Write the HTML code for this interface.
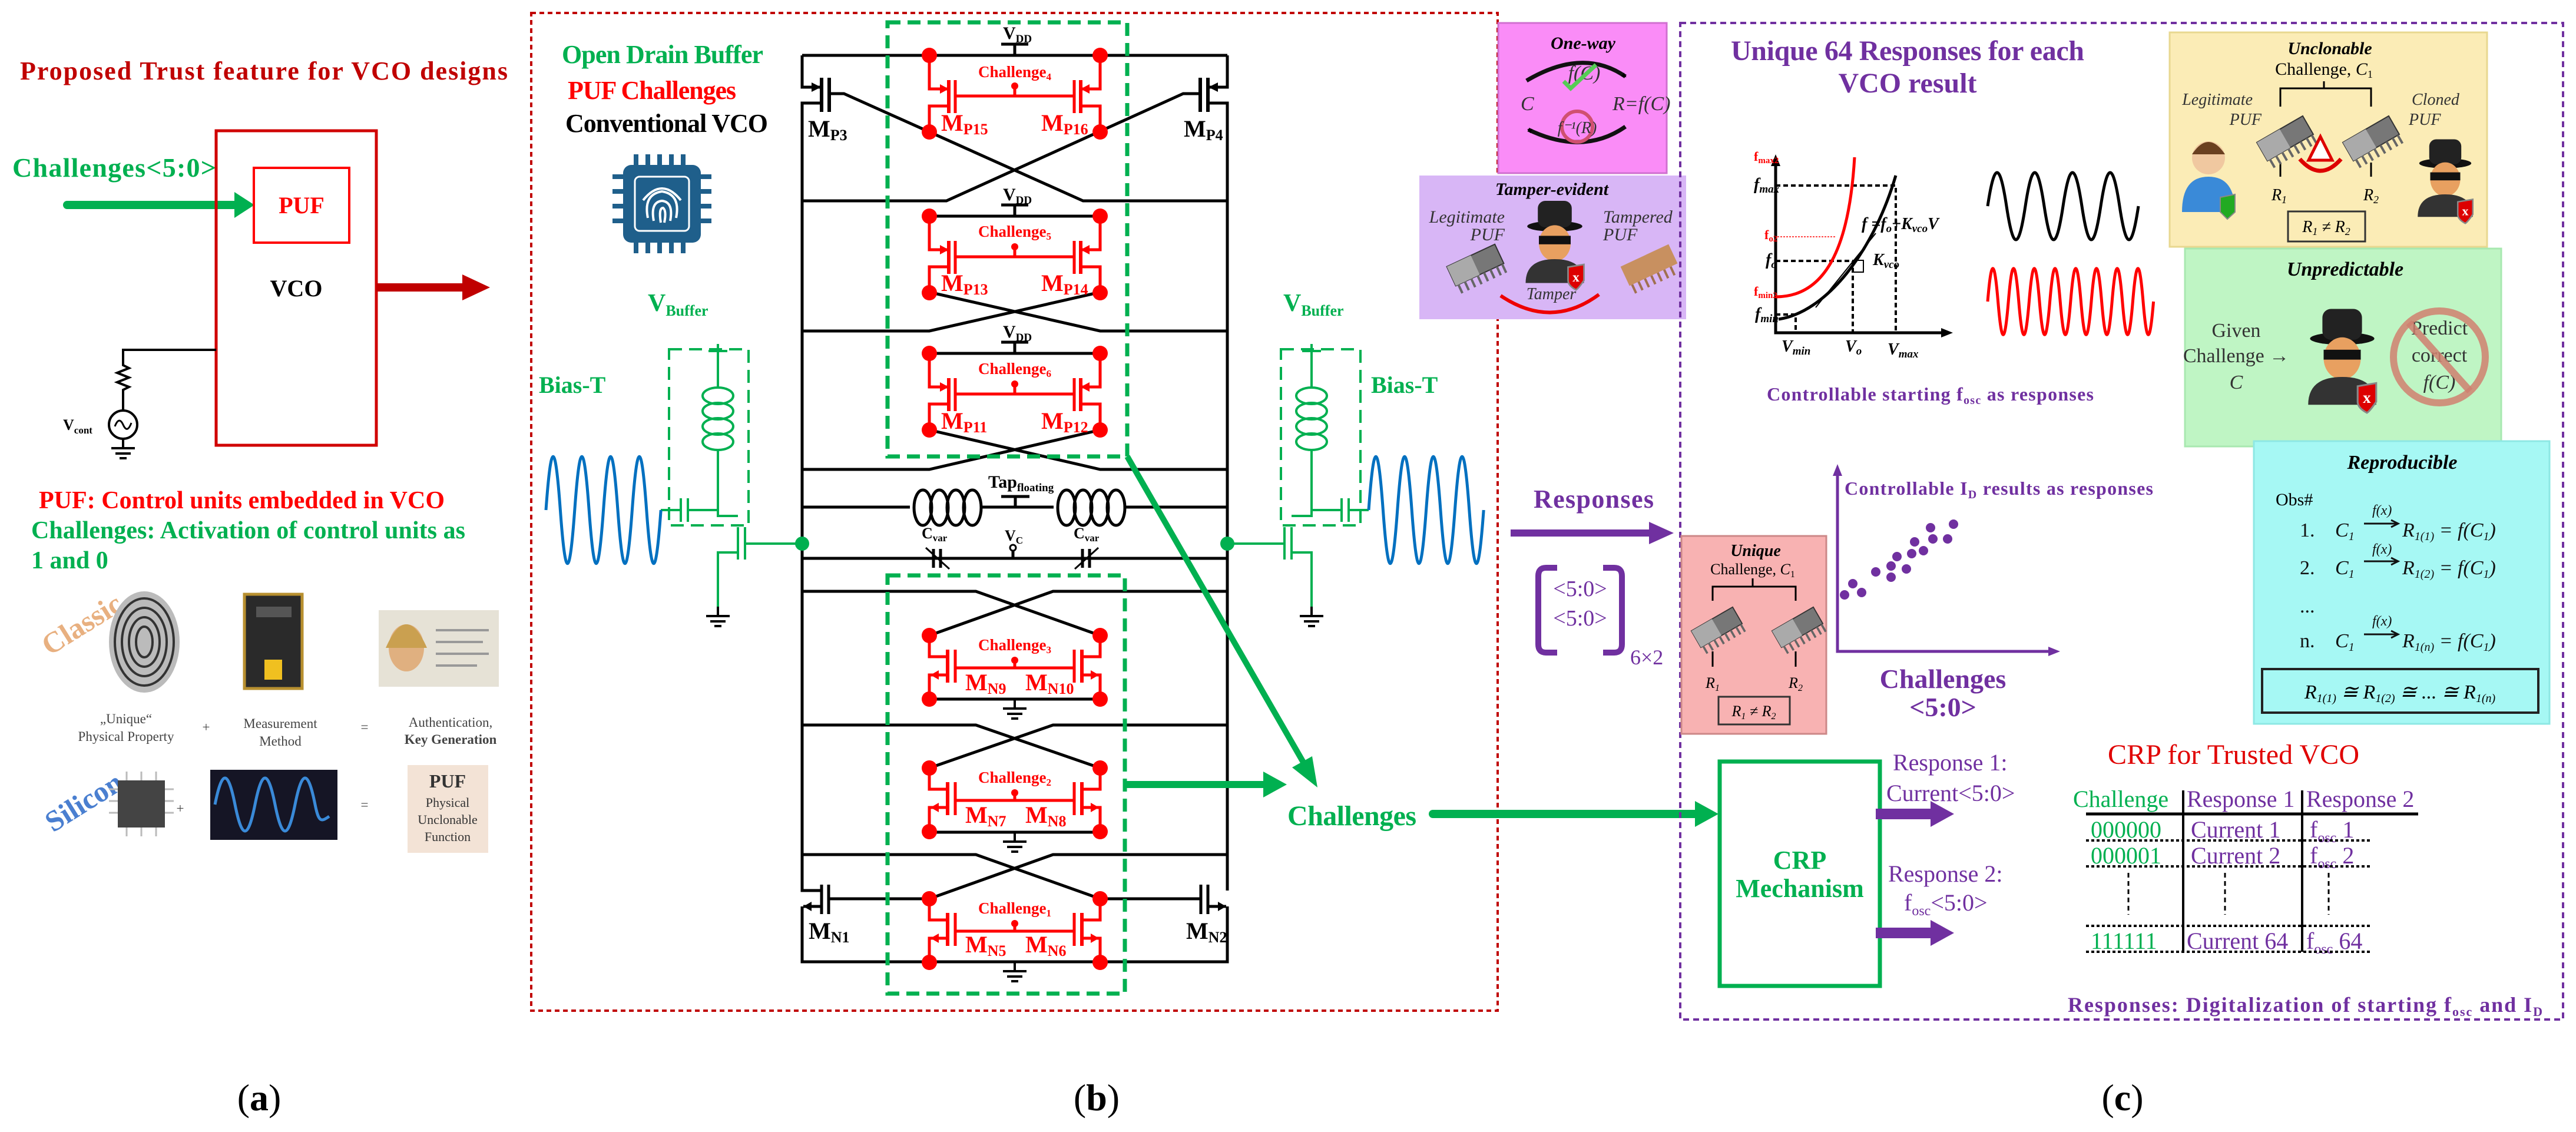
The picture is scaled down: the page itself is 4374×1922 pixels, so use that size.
<!DOCTYPE html>
<html><head><meta charset="utf-8"><style>
html,body{margin:0;padding:0;background:#fff;width:4374px;height:1922px;overflow:hidden}
svg{display:block}
text{font-family:"Liberation Serif",serif}
.b{font-weight:bold}
.i{font-style:italic}
</style></head><body>
<svg width="4374" height="1922" viewBox="0 0 4374 1922" xmlns="http://www.w3.org/2000/svg">
<defs>
<marker id="ah" markerWidth="8" markerHeight="8" refX="6" refY="4" orient="auto" markerUnits="userSpaceOnUse"><path d="M0,0 L8,4 L0,8z" fill="#000"/></marker>
<g id="punit" stroke="#f00" stroke-width="5" fill="none">
 <path d="M0,0 V57 H30 M290,0 V57 H260 M33,86 H0 V130 M257,86 H290 V130"/>
 <path d="M33,42 V98 M257,42 V98" stroke-width="6"/>
 <path d="M44,42 V98 M246,42 V98 M44,69 H246 M145,53 V69" />
 <circle cx="145" cy="52" r="6" fill="#f00" stroke="none"/>
 <path d="M18,49 L33,57 L18,65z M272,49 L257,57 L272,65z" fill="#f00" stroke="none"/>
 <circle cx="0" cy="0" r="13" fill="#f00" stroke="none"/><circle cx="290" cy="0" r="13" fill="#f00" stroke="none"/>
 <circle cx="0" cy="130" r="13" fill="#f00" stroke="none"/><circle cx="290" cy="130" r="13" fill="#f00" stroke="none"/>
</g>
<g id="nunit" stroke="#f00" stroke-width="5" fill="none">
 <path d="M0,0 V36 H31 M290,0 V36 H259 M31,67 H0 V108 M259,67 H290 V108"/>
 <path d="M31,24 V80 M259,24 V80" stroke-width="6"/>
 <path d="M44,24 V80 M246,24 V80 M44,55 H246 M145,43 V55"/>
 <circle cx="145" cy="42" r="6" fill="#f00" stroke="none"/>
 <path d="M2,67 L16,59 L16,75z M288,67 L274,59 L274,75z" fill="#f00" stroke="none"/>
 <circle cx="0" cy="0" r="13" fill="#f00" stroke="none"/><circle cx="290" cy="0" r="13" fill="#f00" stroke="none"/>
 <circle cx="0" cy="108" r="13" fill="#f00" stroke="none"/><circle cx="290" cy="108" r="13" fill="#f00" stroke="none"/>
</g>
<g id="gnd" stroke="#000" stroke-width="4"><path d="M0,0 V16 M-20,16 H20 M-13,25 H13 M-6,33 H6"/></g>
<g id="ind" stroke="#000" stroke-width="5" fill="none">
 <ellipse cx="22" cy="0" rx="15" ry="30"/><ellipse cx="50" cy="0" rx="15" ry="30"/><ellipse cx="78" cy="0" rx="15" ry="30"/><ellipse cx="106" cy="0" rx="15" ry="30"/>
</g>
<g id="chip">
 <rect x="-45" y="-18" width="90" height="36" fill="#777" stroke="#333" stroke-width="2"/>
 <rect x="-45" y="-18" width="45" height="36" fill="#aaa"/>
 <path d="M-40,18 V34 M-28,18 V34 M-16,18 V34 M-4,18 V34 M8,18 V34 M20,18 V34 M32,18 V34 M42,18 V34" stroke="#666" stroke-width="4"/>
</g>
<g id="hacker">
 <ellipse cx="0" cy="-62" rx="52" ry="10" fill="#111"/>
 <rect x="-32" y="-110" width="64" height="50" rx="14" fill="#222"/>
 <ellipse cx="0" cy="-30" rx="30" ry="34" fill="#e8a060"/>
 <rect x="-30" y="-44" width="60" height="16" fill="#111"/>
 <path d="M-55,45 Q-55,0 0,0 Q55,0 55,45 Z" fill="#333"/>
 <path d="M25,15 L55,10 L55,40 Q45,55 40,58 Q25,50 25,40z" fill="#d00" stroke="#888" stroke-width="3"/>
 <text x="40" y="42" font-size="26" fill="#fff" text-anchor="middle" class="b">x</text>
</g>
</defs>

<!-- ================= PANEL A ================= -->
<text x="34" y="135" font-size="44" class="b" fill="#c00000" textLength="828">Proposed Trust feature for VCO designs</text>
<text x="21" y="300" font-size="46" class="b" fill="#00b050" textLength="346">Challenges&lt;5:0&gt;</text>
<line x1="114" y1="348" x2="405" y2="348" stroke="#00b050" stroke-width="14" stroke-linecap="round"/>
<polygon points="398,326 432,348 398,370" fill="#00b050"/>
<rect x="367" y="222" width="272" height="534" fill="none" stroke="#d00000" stroke-width="5"/>
<rect x="431" y="285" width="162" height="127" fill="none" stroke="#f00" stroke-width="4"/>
<text x="512" y="362" font-size="40" class="b" fill="#f00" text-anchor="middle">PUF</text>
<text x="503" y="503" font-size="40" class="b" fill="#000" text-anchor="middle">VCO</text>
<line x1="639" y1="488" x2="790" y2="488" stroke="#c00000" stroke-width="14"/>
<polygon points="785,466 832,488 785,510" fill="#c00000"/>
<path d="M367,594 H209 V620 l10,5 -20,8 20,8 -20,8 20,8 -10,5 V697" fill="none" stroke="#000" stroke-width="4"/>
<circle cx="209" cy="721" r="24" fill="none" stroke="#000" stroke-width="4"/>
<path d="M195,724 q7,-18 14,-3 q7,16 14,-3" fill="none" stroke="#000" stroke-width="3"/>
<use href="#gnd" x="209" y="745"/>
<text x="107" y="730" font-size="26" class="b">V<tspan font-size="17" dy="6">cont</tspan></text>
<text x="66" y="863" font-size="42" class="b" fill="#f00" textLength="689">PUF: Control units embedded in VCO</text>
<text x="53" y="914" font-size="42" class="b" fill="#00b050" textLength="737">Challenges: Activation of control units as</text>
<text x="53" y="965" font-size="42" class="b" fill="#00b050">1 and 0</text>
<!-- images -->
<text x="60" y="1090" font-size="50" class="b" fill="#e8b080" transform="rotate(-32 114 1060)" font-family="Liberation Sans">Classic</text>
<ellipse cx="245" cy="1090" rx="60" ry="86" fill="#bbb"/>
<g fill="none" stroke="#333" stroke-width="4"><ellipse cx="245" cy="1090" rx="50" ry="74"/><ellipse cx="245" cy="1090" rx="38" ry="58"/><ellipse cx="245" cy="1090" rx="26" ry="42"/><ellipse cx="245" cy="1090" rx="14" ry="26"/></g>
<rect x="415" y="1009" width="98" height="160" fill="#2a2a2a" stroke="#b89030" stroke-width="5"/>
<rect x="449" y="1120" width="30" height="34" fill="#f0c020"/><rect x="435" y="1030" width="60" height="18" fill="#555"/>
<rect x="643" y="1036" width="204" height="130" fill="#e6e2d6"/>
<ellipse cx="690" cy="1100" rx="30" ry="40" fill="#e0b080"/><path d="M655,1100 q35,-80 70,0" fill="#caa050"/>
<g stroke="#999" stroke-width="4"><path d="M740,1070 H830 M740,1090 H820 M740,1110 H830 M740,1130 H810"/></g>
<g font-family="Liberation Sans" font-size="23" fill="#444" text-anchor="middle">
<text x="214" y="1228">„Unique“</text><text x="214" y="1258">Physical Property</text>
<text x="350" y="1242">+</text>
<text x="476" y="1236">Measurement</text><text x="476" y="1266">Method</text>
<text x="619" y="1242">=</text>
<text x="765" y="1234">Authentication,</text><text x="765" y="1263" font-weight="bold">Key Generation</text>
<text x="306" y="1380">+</text><text x="619" y="1374">=</text>
</g>
<text x="65" y="1385" font-size="50" class="b" fill="#4a7fd0" transform="rotate(-32 128 1356)" font-family="Liberation Sans">Silicon</text>
<rect x="200" y="1325" width="80" height="80" fill="#444"/>
<g stroke="#bbb" stroke-width="3"><path d="M185,1340 H200 M185,1360 H200 M185,1380 H200 M280,1340 H295 M280,1360 H295 M280,1380 H295 M215,1310 V1325 M240,1310 V1325 M265,1310 V1325 M215,1405 V1420 M240,1405 V1420 M265,1405 V1420"/></g>
<rect x="357" y="1307" width="216" height="119" fill="#151525"/>
<path d="M365,1366 c12,-60 22,-60 34,0 c12,60 22,60 34,0 c12,-60 22,-60 34,0 c12,60 22,60 34,0 c12,-60 22,-60 34,0 c6,30 10,30 24,20" fill="none" stroke="#3a8ad8" stroke-width="5"/>
<rect x="692" y="1299" width="137" height="149" fill="#f3e3d6"/>
<g font-family="Liberation Sans" text-anchor="middle" fill="#333"><text x="760" y="1337" font-size="32" font-weight="bold">PUF</text><text x="760" y="1370" font-size="22">Physical</text><text x="760" y="1399" font-size="22">Unclonable</text><text x="760" y="1428" font-size="22">Function</text></g>

<!-- ================= PANEL B ================= -->
<rect x="902" y="22" width="1641" height="1694" fill="none" stroke="#c00000" stroke-width="4" stroke-dasharray="8,6"/>
<text x="954" y="107" font-size="44" class="b" fill="#00b050" textLength="342">Open Drain Buffer</text>
<text x="964" y="168" font-size="44" class="b" fill="#f00" textLength="286">PUF Challenges</text>
<text x="960" y="224" font-size="44" class="b" fill="#000" textLength="344">Conventional VCO</text>
<!-- chip icon -->
<g stroke="#1f5f8b" stroke-width="8"><path d="M1080,262 V282 M1100,262 V282 M1120,262 V282 M1140,262 V282 M1160,262 V282 M1080,410 V430 M1100,410 V430 M1120,410 V430 M1140,410 V430 M1160,410 V430 M1040,300 H1060 M1040,325 H1060 M1040,350 H1060 M1040,375 H1060 M1188,300 H1208 M1188,325 H1208 M1188,350 H1208 M1188,375 H1208"/></g>
<rect x="1058" y="280" width="132" height="132" rx="14" fill="#1f5f8b"/>
<rect x="1078" y="300" width="92" height="92" rx="8" fill="none" stroke="#fff" stroke-width="3"/>
<g fill="none" stroke="#fff" stroke-width="4"><path d="M1100,370 q-8,-40 24,-45 q32,5 24,45"/><path d="M1110,375 q-6,-32 14,-34 q20,2 14,34"/><path d="M1122,378 q-4,-25 4,-25 q6,5 2,25"/><path d="M1092,340 q32,-40 64,0"/></g>

<!-- bias-T left -->
<text x="1100" y="528" font-size="42" class="b" fill="#00b050">V<tspan font-size="26" dy="8">Buffer</tspan></text>
<text x="915" y="667" font-size="40" class="b" fill="#00b050">Bias-T</text>
<rect x="1136" y="593" width="135" height="299" fill="none" stroke="#00b050" stroke-width="4" stroke-dasharray="22,12"/>
<g fill="none" stroke="#00b050" stroke-width="4">
<path d="M1219,584 V660 M1203,596 H1235"/>
<ellipse cx="1219" cy="672" rx="26" ry="14"/><ellipse cx="1219" cy="698" rx="26" ry="14"/><ellipse cx="1219" cy="724" rx="26" ry="14"/><ellipse cx="1219" cy="750" rx="26" ry="14"/>
<path d="M1219,764 V876 H1253 M1122,866 H1156 M1156,846 V886 M1168,846 V886 M1168,866 H1219"/>
<path d="M1253,895 V950 M1265,895 V950 M1265,923 H1362 M1253,938 H1219 V1030"/>
</g>
<use href="#gnd" x="1219" y="1030" style="filter:none"/>
<path d="M927,866 c8.8,-121 15.6,-121 24.4,0 c8.8,121 15.6,121 24.4,0 c8.8,-121 15.6,-121 24.4,0 c8.8,121 15.6,121 24.4,0 c8.8,-121 15.6,-121 24.4,0 c8.8,121 15.6,121 24.4,0 c8.8,-121 15.6,-121 24.4,0 c8.8,121 15.6,121 24.4,0" fill="none" stroke="#0070c0" stroke-width="5"/>
<!-- bias-T right -->
<text x="2179" y="528" font-size="42" class="b" fill="#00b050">V<tspan font-size="26" dy="8">Buffer</tspan></text>
<text x="2328" y="667" font-size="40" class="b" fill="#00b050">Bias-T</text>
<rect x="2175" y="593" width="135" height="299" fill="none" stroke="#00b050" stroke-width="4" stroke-dasharray="22,12"/>
<g fill="none" stroke="#00b050" stroke-width="4">
<path d="M2227,584 V660 M2211,596 H2243"/>
<ellipse cx="2227" cy="672" rx="26" ry="14"/><ellipse cx="2227" cy="698" rx="26" ry="14"/><ellipse cx="2227" cy="724" rx="26" ry="14"/><ellipse cx="2227" cy="750" rx="26" ry="14"/>
<path d="M2227,764 V876 H2193 M2324,866 H2290 M2290,846 V886 M2278,846 V886 M2278,866 H2227"/>
<path d="M2193,895 V950 M2181,895 V950 M2181,923 H2084 M2193,938 H2227 V1030"/>
</g>
<use href="#gnd" x="2227" y="1030"/>
<path d="M2324,866 c8.8,-121 15.6,-121 24.4,0 c8.8,121 15.6,121 24.4,0 c8.8,-121 15.6,-121 24.4,0 c8.8,121 15.6,121 24.4,0 c8.8,-121 15.6,-121 24.4,0 c8.8,121 15.6,121 24.4,0 c8.8,-121 15.6,-121 24.4,0 c8.8,121 15.6,121 24.4,0" fill="none" stroke="#0070c0" stroke-width="5"/>

<!-- core black wiring -->
<g fill="none" stroke="#000" stroke-width="5">
<path d="M1362,94 H2084 M1362,94 V148 H1392 M1395,175 H1362 V1512 H1395 M1362,1539 V1633 H2084 V1539 M2084,1512 V175 H2051 M2054,148 H2084 V94"/>
<path d="M1395,132 V190 M1408,132 V190 M2051,132 V190 M2038,132 V190" stroke-width="6"/>
<path d="M1408,159 H1433 L1839,341 H2084 M2038,159 H2009 L1607,341 H1362"/>
<path d="M1578,367 H1868 M1578,600 H1868"/>
<path d="M1578,496 L1868,562 H2084 M1868,496 L1578,562 H1362 M1578,730 L1868,797 H2084 M1868,730 L1578,797 H1362"/>
<path d="M1362,861 H1545 M1665,861 H1789 M1909,861 H2084 M1362,948 H2084"/>
<path d="M1700,843 H1748 M1724,843 V861"/>
<path d="M1362,1004 H1657 L1868,1079 M2084,1004 H1788 L1578,1079 M1362,1231 H1657 L1868,1304 M2084,1231 H1788 L1578,1304 M1362,1451 H1657 L1868,1526 M2084,1451 H1788 L1578,1526"/>
<path d="M1578,1187 H1868 M1578,1413 H1868"/>
<path d="M1578,1526 H1407 M1868,1526 H2039 M1395,1502 V1552 M1407,1502 V1552 M2051,1502 V1552 M2039,1502 V1552" />
<path d="M1395,1539 H1364 M2051,1539 H2082"/>
<path d="M1700,75 H1746 M1723,75 V94 M1700,348 H1746 M1723,348 V367 M1700,581 H1746 M1723,581 V600"/>
</g>
<path d="M1378,140 L1394,148 L1378,156z M2068,140 L2052,148 L2068,156z M1364,1539 L1378,1531 L1378,1547z M2082,1539 L2068,1531 L2068,1547z" fill="#000"/>
<use href="#ind" x="1545" y="862"/><use href="#ind" x="1789" y="862"/>
<!-- varactors -->
<g stroke="#000" stroke-width="5" fill="none"><path d="M1585,932 V964 M1597,932 V964 M1838,932 V964 M1850,932 V964"/><path d="M1572,930 L1612,966 M1865,930 L1825,966" stroke-width="3"/><path d="M1720,948 V928"/></g>
<circle cx="1720" cy="930" r="5" fill="#fff" stroke="#000" stroke-width="3"/>
<circle cx="1362" cy="923" r="12" fill="#00b050"/><circle cx="2084" cy="923" r="12" fill="#00b050"/>
<g font-size="26" class="b">
<text x="1565" y="914">C<tspan font-size="17" dy="5">var</tspan></text>
<text x="1823" y="914">C<tspan font-size="17" dy="5">var</tspan></text>
<text x="1706" y="918">V<tspan font-size="17" dy="5">C</tspan></text>
<text x="1678" y="828" font-size="30">Tap<tspan font-size="19" dy="6">floating</tspan></text>
</g>
<g font-size="30" class="b">
<text x="1703" y="66">V<tspan font-size="19" dy="6">DD</tspan></text>
<text x="1703" y="340">V<tspan font-size="19" dy="6">DD</tspan></text>
<text x="1703" y="573">V<tspan font-size="19" dy="6">DD</tspan></text>
</g>
<use href="#punit" x="1578" y="94"/><use href="#punit" x="1578" y="367"/><use href="#punit" x="1578" y="600"/>
<use href="#nunit" x="1578" y="1079"/><use href="#nunit" x="1578" y="1304"/><use href="#nunit" x="1578" y="1526"/>
<use href="#gnd" x="1723" y="1187"/><use href="#gnd" x="1723" y="1413"/><use href="#gnd" x="1723" y="1633"/>
<g fill="#f00" class="b" text-anchor="middle" font-size="27">
<text x="1723" y="131">Challenge<tspan font-size="17" dy="5">4</tspan></text>
<text x="1723" y="402">Challenge<tspan font-size="17" dy="5">5</tspan></text>
<text x="1723" y="635">Challenge<tspan font-size="17" dy="5">6</tspan></text>
<text x="1723" y="1104">Challenge<tspan font-size="17" dy="5">3</tspan></text>
<text x="1723" y="1329">Challenge<tspan font-size="17" dy="5">2</tspan></text>
<text x="1723" y="1551">Challenge<tspan font-size="17" dy="5">1</tspan></text>
</g>
<g fill="#f00" class="b" font-size="40">
<text x="1598" y="222">M<tspan font-size="26" dy="6">P15</tspan></text><text x="1768" y="222">M<tspan font-size="26" dy="6">P16</tspan></text>
<text x="1598" y="494">M<tspan font-size="26" dy="6">P13</tspan></text><text x="1768" y="494">M<tspan font-size="26" dy="6">P14</tspan></text>
<text x="1598" y="728">M<tspan font-size="26" dy="6">P11</tspan></text><text x="1768" y="728">M<tspan font-size="26" dy="6">P12</tspan></text>
<text x="1639" y="1172">M<tspan font-size="26" dy="6">N9</tspan></text><text x="1741" y="1172">M<tspan font-size="26" dy="6">N10</tspan></text>
<text x="1639" y="1397">M<tspan font-size="26" dy="6">N7</tspan></text><text x="1741" y="1397">M<tspan font-size="26" dy="6">N8</tspan></text>
<text x="1639" y="1617">M<tspan font-size="26" dy="6">N5</tspan></text><text x="1741" y="1617">M<tspan font-size="26" dy="6">N6</tspan></text>
</g>
<g fill="#000" class="b" font-size="40">
<text x="1372" y="232">M<tspan font-size="26" dy="6">P3</tspan></text><text x="2010" y="232">M<tspan font-size="26" dy="6">P4</tspan></text>
<text x="1373" y="1594">M<tspan font-size="26" dy="6">N1</tspan></text><text x="2014" y="1594">M<tspan font-size="26" dy="6">N2</tspan></text>
</g>
<!-- green dashed boxes & arrows -->
<rect x="1507" y="38" width="407" height="737" fill="none" stroke="#00b050" stroke-width="7" stroke-dasharray="22,12"/>
<rect x="1507" y="977" width="403" height="710" fill="none" stroke="#00b050" stroke-width="7" stroke-dasharray="22,12"/>
<line x1="1914" y1="775" x2="2214" y2="1296" stroke="#00b050" stroke-width="10"/>
<polygon points="2237,1337 2194,1303 2228,1284" fill="#00b050"/>
<line x1="1910" y1="1332" x2="2150" y2="1332" stroke="#00b050" stroke-width="12"/>
<polygon points="2145,1310 2185,1332 2145,1354" fill="#00b050"/>
<text x="2186" y="1401" font-size="48" class="b" fill="#00b050" textLength="219">Challenges</text>
<line x1="2433" y1="1382" x2="2885" y2="1382" stroke="#00b050" stroke-width="14" stroke-linecap="round"/>
<polygon points="2878,1360 2918,1382 2878,1404" fill="#00b050"/>

<!-- responses -->
<text x="2604" y="862" font-size="44" class="b" fill="#7030a0" textLength="204">Responses</text>
<line x1="2565" y1="905" x2="2805" y2="905" stroke="#7030a0" stroke-width="12"/>
<polygon points="2800,886 2842,905 2800,924" fill="#7030a0"/>
<path d="M2644,964 H2625 Q2612,964 2612,978 V1094 Q2612,1108 2625,1108 H2644 M2722,964 H2741 Q2754,964 2754,978 V1094 Q2754,1108 2741,1108 H2722" fill="none" stroke="#7030a0" stroke-width="10"/>
<text x="2683" y="1012" font-size="38" fill="#7030a0" text-anchor="middle">&lt;5:0&gt;</text>
<text x="2683" y="1062" font-size="38" fill="#7030a0" text-anchor="middle">&lt;5:0&gt;</text>
<text x="2768" y="1128" font-size="36" fill="#7030a0">6×2</text>

<!-- one-way / tamper -->
<rect x="2544" y="39" width="286" height="255" fill="#fa8cf7" stroke="#d070d0" stroke-width="3"/>
<text x="2688" y="83" font-size="30" class="b i" text-anchor="middle">One-way</text>
<path d="M2592,137 Q2688,80 2760,130" fill="none" stroke="#111" stroke-width="7" marker-end="url(#ah)"/>
<path d="M2760,215 Q2688,265 2595,220" fill="none" stroke="#111" stroke-width="7" marker-end="url(#ah)"/>
<text x="2690" y="135" font-size="34" class="i" text-anchor="middle" fill="#333">f(C)</text>
<path d="M2655,138 L2667,150 L2710,110" fill="none" stroke="#5c5" stroke-width="7"/>
<text x="2582" y="187" font-size="34" class="i" fill="#333">C</text>
<text x="2738" y="187" font-size="34" class="i" fill="#333">R=f(C)</text>
<circle cx="2678" cy="215" r="26" fill="none" stroke="#d05070" stroke-width="6"/>
<text x="2678" y="226" font-size="28" class="i" text-anchor="middle" fill="#333">f⁻¹(R)</text>
<rect x="2410" y="298" width="453" height="244" fill="#d8b6f6"/>
<text x="2635" y="331" font-size="30" class="b i" text-anchor="middle">Tamper-evident</text>
<text x="2555" y="378" font-size="30" class="i" text-anchor="end" fill="#333">Legitimate</text>
<text x="2555" y="408" font-size="30" class="i" text-anchor="end" fill="#333">PUF</text>
<text x="2722" y="378" font-size="30" class="i" fill="#333">Tampered</text>
<text x="2722" y="408" font-size="30" class="i" fill="#333">PUF</text>
<use href="#hacker" transform="translate(2640,440) scale(0.9)"/>
<use href="#chip" transform="translate(2505,450) rotate(-25)"/>
<g transform="translate(2800,450) rotate(-25)"><rect x="-45" y="-18" width="90" height="36" fill="#c89060"/><path d="M-40,18 V34 M-28,18 V34 M-16,18 V34 M-4,18 V34 M8,18 V34 M20,18 V34 M32,18 V34" stroke="#a07050" stroke-width="4"/></g>
<text x="2634" y="508" font-size="28" class="i" text-anchor="middle" fill="#333">Tamper</text>
<path d="M2548,502 Q2634,560 2715,500" fill="none" stroke="#e00" stroke-width="6"/>

<!-- ================= PANEL C ================= -->
<rect x="2853" y="39" width="1499" height="1692" fill="none" stroke="#7030a0" stroke-width="4" stroke-dasharray="10,7"/>
<text x="3239" y="102" font-size="48" class="b" fill="#7030a0" text-anchor="middle" textLength="600">Unique 64 Responses for each</text>
<text x="3239" y="157" font-size="48" class="b" fill="#7030a0" text-anchor="middle">VCO result</text>
<!-- graph -->
<g fill="none" stroke="#000" stroke-width="5"><path d="M3015,272 V565 H3305"/></g>
<path d="M3007,282 L3015,262 L3023,282z M3296,557 L3316,565 L3296,573z" fill="#000"/>
<g fill="none" stroke="#000" stroke-width="4" stroke-dasharray="8,5"><path d="M3015,315 H3219 V565 M3015,443 H3146 V565 M3015,534 H3049 V565"/></g>
<path d="M3018,402 H3118" stroke="#f44" stroke-width="2" stroke-dasharray="3,2"/>
<path d="M3015,504 C3100,504 3140,420 3149,267" fill="none" stroke="#f00" stroke-width="5"/>
<path d="M3020,542 C3100,530 3180,430 3219,298" fill="none" stroke="#000" stroke-width="5"/>
<path d="M3083,522 L3185,396" stroke="#000" stroke-width="2"/>
<rect x="3146" y="442" width="18" height="20" fill="none" stroke="#000" stroke-width="2"/>
<g class="b" font-size="28">
<text x="2978" y="273" fill="#f00" font-size="22">f<tspan font-size="15" dy="4">max2</tspan></text>
<text x="2978" y="322" class="i">f<tspan font-size="19" dy="5">max</tspan></text>
<text x="2996" y="406" fill="#f00" font-size="22">f<tspan font-size="15" dy="4">o2</tspan></text>
<text x="2998" y="450" class="i">f<tspan font-size="19" dy="5">o</tspan></text>
<text x="2978" y="502" fill="#f00" font-size="22">f<tspan font-size="15" dy="4">min2</tspan></text>
<text x="2980" y="542" class="i">f<tspan font-size="19" dy="5">min</tspan></text>
<text x="3025" y="597" class="i">V<tspan font-size="19" dy="5">min</tspan></text>
<text x="3133" y="597" class="i">V<tspan font-size="19" dy="5">o</tspan></text>
<text x="3205" y="602" class="i">V<tspan font-size="19" dy="5">max</tspan></text>
<text x="3161" y="389" class="i">f =f<tspan font-size="19" dy="5">o</tspan><tspan dy="-5">+K</tspan><tspan font-size="19" dy="5">vco</tspan><tspan dy="-5">V</tspan></text>
<text x="3180" y="450" class="i">K<tspan font-size="19" dy="5">vco</tspan></text>
</g>
<path d="M3375,350 c11.5,-76 20.5,-76 32,0 c11.5,76 20.5,76 32,0 c11.5,-76 20.5,-76 32,0 c11.5,76 20.5,76 32,0 c11.5,-76 20.5,-76 32,0 c11.5,76 20.5,76 32,0 c11.5,-76 20.5,-76 32,0 c11.5,76 20.5,76 32,0" fill="none" stroke="#000" stroke-width="5"/>
<path d="M3375,512 c6.3,-75 11.3,-75 17.6,0 c6.3,75 11.3,75 17.6,0 c6.3,-75 11.3,-75 17.6,0 c6.3,75 11.3,75 17.6,0 c6.3,-75 11.3,-75 17.6,0 c6.3,75 11.3,75 17.6,0 c6.3,-75 11.3,-75 17.6,0 c6.3,75 11.3,75 17.6,0 c6.3,-75 11.3,-75 17.6,0 c6.3,75 11.3,75 17.6,0 c6.3,-75 11.3,-75 17.6,0 c6.3,75 11.3,75 17.6,0 c6.3,-75 11.3,-75 17.6,0 c6.3,75 11.3,75 17.6,0 c6.3,-75 11.3,-75 17.6,0 c6.3,75 11.3,75 17.6,0" fill="none" stroke="#f00" stroke-width="5"/>
<text x="3000" y="680" font-size="32" class="b" fill="#7030a0" textLength="555">Controllable starting f<tspan font-size="20" dy="6">osc</tspan><tspan dy="-6"> as responses</tspan></text>

<!-- unclonable -->
<rect x="3684" y="55" width="539" height="364" fill="#fbecb6" stroke="#e8d890" stroke-width="3"/>
<text x="3956" y="92" font-size="30" class="b i" text-anchor="middle">Unclonable</text>
<text x="3946" y="127" font-size="30" text-anchor="middle">Challenge, <tspan class="i">C</tspan><tspan font-size="18" dy="5">1</tspan></text>
<path d="M3946,138 V150 M3872,181 V150 H4026 V181 M3872,276 V300 M4026,276 V300" stroke="#000" stroke-width="3" fill="none"/>
<text x="3825" y="178" font-size="28" class="i" text-anchor="end" fill="#333">Legitimate</text>
<text x="3840" y="212" font-size="28" class="i" text-anchor="end" fill="#333">PUF</text>
<text x="4095" y="178" font-size="28" class="i" fill="#333">Cloned</text>
<text x="4090" y="212" font-size="28" class="i" fill="#333">PUF</text>
<use href="#chip" transform="translate(3880,235) rotate(-30)"/><use href="#chip" transform="translate(4026,235) rotate(-30)"/>
<polygon points="3940,232 3960,272 3920,272" fill="#fff" stroke="#d00" stroke-width="5"/>
<path d="M3905,270 Q3940,310 3975,270" fill="none" stroke="#d00" stroke-width="7"/>
<text x="3870" y="340" font-size="28" class="i" text-anchor="middle">R<tspan font-size="18" dy="5">1</tspan></text>
<text x="4026" y="340" font-size="28" class="i" text-anchor="middle">R<tspan font-size="18" dy="5">2</tspan></text>
<rect x="3885" y="359" width="131" height="51" fill="none" stroke="#333" stroke-width="3"/>
<text x="3950" y="394" font-size="28" class="i" text-anchor="middle">R<tspan font-size="18" dy="5">1</tspan><tspan dy="-5"> ≠ R</tspan><tspan font-size="18" dy="5">2</tspan></text>
<circle cx="3750" cy="268" r="28" fill="#f0c8a0"/><path d="M3722,262 Q3750,220 3778,262" fill="#6a4020"/>
<path d="M3705,360 Q3705,300 3750,300 Q3795,300 3795,360Z" fill="#3a8ad8"/>
<path d="M3770,335 L3795,330 L3795,360 L3782,372 L3770,360z" fill="#2a2" stroke="#888" stroke-width="2"/>
<use href="#hacker" transform="translate(4152,330) scale(0.85)"/>

<!-- unpredictable -->
<rect x="3710" y="422" width="537" height="336" fill="#bff5c4" stroke="#a8e8b0" stroke-width="3"/>
<text x="3982" y="468" font-size="34" class="b i" text-anchor="middle">Unpredictable</text>
<g font-size="34" fill="#333" text-anchor="middle"><text x="3797" y="572">Given</text><text x="3797" y="615">Challenge →</text><text x="3797" y="660" class="i">C</text>
<text x="4142" y="568">Predict</text><text x="4142" y="614">correct</text><text x="4142" y="660" class="i">f(C)</text></g>
<circle cx="4142" cy="606" r="78" fill="none" stroke="#d08070" stroke-width="12" opacity="0.85"/>
<line x1="4090" y1="548" x2="4194" y2="664" stroke="#d08070" stroke-width="12" opacity="0.85"/>
<use href="#hacker" transform="translate(3977,640) scale(1.05)"/>

<!-- reproducible -->
<rect x="3827" y="749" width="502" height="480" fill="#a6f8f4" stroke="#8ee8e4" stroke-width="3"/>
<text x="4079" y="796" font-size="34" class="b i" text-anchor="middle">Reproducible</text>
<text x="3864" y="858" font-size="30">Obs#</text>
<g font-size="34" fill="#111">
<text x="3905" y="911">1.</text><text x="3965" y="911" class="i">C<tspan font-size="20" dy="6">1</tspan></text><text x="4079" y="911" class="i">R<tspan font-size="20" dy="6">1(1)</tspan><tspan dy="-6"> = f(C</tspan><tspan font-size="20" dy="6">1</tspan><tspan dy="-6">)</tspan></text>
<text x="3905" y="975">2.</text><text x="3965" y="975" class="i">C<tspan font-size="20" dy="6">1</tspan></text><text x="4079" y="975" class="i">R<tspan font-size="20" dy="6">1(2)</tspan><tspan dy="-6"> = f(C</tspan><tspan font-size="20" dy="6">1</tspan><tspan dy="-6">)</tspan></text>
<text x="3905" y="1040">...</text>
<text x="3905" y="1099">n.</text><text x="3965" y="1099" class="i">C<tspan font-size="20" dy="6">1</tspan></text><text x="4079" y="1099" class="i">R<tspan font-size="20" dy="6">1(n)</tspan><tspan dy="-6"> = f(C</tspan><tspan font-size="20" dy="6">1</tspan><tspan dy="-6">)</tspan></text>
<g font-size="24" class="i"><text x="4028" y="874">f(x)</text><text x="4028" y="940">f(x)</text><text x="4028" y="1062">f(x)</text></g>
</g>
<g stroke="#111" stroke-width="3"><path d="M4014,889 H4070 M4014,953 H4070 M4014,1077 H4070"/><path d="M4060,883 L4072,889 L4060,895 M4060,947 L4072,953 L4060,959 M4060,1071 L4072,1077 L4060,1083" fill="none"/></g>
<rect x="3841" y="1136" width="469" height="74" fill="none" stroke="#222" stroke-width="4"/>
<text x="4075" y="1186" font-size="34" class="i" text-anchor="middle">R<tspan font-size="20" dy="6">1(1)</tspan><tspan dy="-6"> ≅ R</tspan><tspan font-size="20" dy="6">1(2)</tspan><tspan dy="-6"> ≅  ... ≅ R</tspan><tspan font-size="20" dy="6">1(n)</tspan></text>

<!-- unique -->
<rect x="2855" y="910" width="246" height="336" fill="#f8b2b2" stroke="#c88" stroke-width="3"/>
<text x="2981" y="944" font-size="28" class="b i" text-anchor="middle">Unique</text>
<text x="2976" y="975" font-size="26" text-anchor="middle">Challenge, <tspan class="i">C</tspan><tspan font-size="16" dy="5">1</tspan></text>
<path d="M2976,982 V996 M2908,1020 V996 H3049 V1020 M2908,1106 V1132 M3049,1106 V1132" stroke="#000" stroke-width="3" fill="none"/>
<use href="#chip" transform="translate(2915,1065) rotate(-30) scale(0.9)"/><use href="#chip" transform="translate(3052,1065) rotate(-30) scale(0.9)"/>
<text x="2908" y="1168" font-size="26" class="i" text-anchor="middle">R<tspan font-size="16" dy="5">1</tspan></text>
<text x="3049" y="1168" font-size="26" class="i" text-anchor="middle">R<tspan font-size="16" dy="5">2</tspan></text>
<rect x="2918" y="1183" width="121" height="47" fill="none" stroke="#333" stroke-width="3"/>
<text x="2978" y="1216" font-size="26" class="i" text-anchor="middle">R<tspan font-size="16" dy="5">1</tspan><tspan dy="-5"> ≠ R</tspan><tspan font-size="16" dy="5">2</tspan></text>

<!-- ID graph -->
<path d="M3120,800 V1106 H3485" fill="none" stroke="#7030a0" stroke-width="5"/>
<path d="M3112,808 L3120,788 L3128,808z M3478,1098 L3498,1106 L3478,1114z" fill="#7030a0"/>
<text x="3132" y="840" font-size="32" class="b" fill="#7030a0" textLength="524">Controllable I<tspan font-size="20" dy="6">D</tspan><tspan dy="-6"> results as responses</tspan></text>
<g fill="#7030a0">
<circle cx="3132" cy="1010" r="8"/><circle cx="3146" cy="991" r="8"/><circle cx="3161" cy="1006" r="8"/><circle cx="3185" cy="971" r="8"/><circle cx="3211" cy="980" r="8"/><circle cx="3211" cy="961" r="8"/><circle cx="3221" cy="945" r="8"/><circle cx="3237" cy="966" r="8"/><circle cx="3246" cy="940" r="8"/><circle cx="3266" cy="935" r="8"/><circle cx="3251" cy="920" r="8"/><circle cx="3282" cy="915" r="8"/><circle cx="3278" cy="896" r="8"/><circle cx="3307" cy="915" r="8"/><circle cx="3317" cy="890" r="8"/>
</g>
<text x="3299" y="1168" font-size="46" class="b" fill="#7030a0" text-anchor="middle">Challenges</text>
<text x="3299" y="1216" font-size="46" class="b" fill="#7030a0" text-anchor="middle">&lt;5:0&gt;</text>

<!-- CRP -->
<rect x="2920" y="1293" width="272" height="381" fill="none" stroke="#00b050" stroke-width="7"/>
<text x="3056" y="1475" font-size="44" class="b" fill="#00b050" text-anchor="middle">CRP</text>
<text x="3056" y="1523" font-size="44" class="b" fill="#00b050" text-anchor="middle">Mechanism</text>
<g font-size="40" fill="#7030a0">
<text x="3214" y="1308">Response 1:</text>
<text x="3203" y="1360">Current&lt;5:0&gt;</text>
<text x="3206" y="1497">Response 2:</text>
<text x="3233" y="1546">f<tspan font-size="24" dy="8">osc</tspan><tspan dy="-8">&lt;5:0&gt;</tspan></text>
</g>
<line x1="3185" y1="1382" x2="3285" y2="1382" stroke="#7030a0" stroke-width="18"/>
<polygon points="3278,1360 3318,1382 3278,1404" fill="#7030a0"/>
<line x1="3185" y1="1584" x2="3285" y2="1584" stroke="#7030a0" stroke-width="18"/>
<polygon points="3278,1562 3318,1584 3278,1606" fill="#7030a0"/>
<text x="3579" y="1297" font-size="48" fill="#e00000" textLength="427">CRP for Trusted VCO</text>
<g font-size="40">
<text x="3520" y="1370" fill="#00b050">Challenge</text>
<text x="3713" y="1370" fill="#7030a0">Response 1</text>
<text x="3916" y="1370" fill="#7030a0">Response 2</text>
<text x="3550" y="1422" fill="#00b050">000000</text><text x="3720" y="1422" fill="#7030a0">Current 1</text><text x="3922" y="1422" fill="#7030a0">f<tspan font-size="24" dy="8">osc</tspan><tspan dy="-8"> 1</tspan></text>
<text x="3550" y="1466" fill="#00b050">000001</text><text x="3720" y="1466" fill="#7030a0">Current 2</text><text x="3922" y="1466" fill="#7030a0">f<tspan font-size="24" dy="8">osc</tspan><tspan dy="-8"> 2</tspan></text>
<text x="3550" y="1611" fill="#00b050">111111</text><text x="3713" y="1611" fill="#7030a0">Current 64</text><text x="3916" y="1611" fill="#7030a0">f<tspan font-size="24" dy="8">osc</tspan><tspan dy="-8"> 64</tspan></text>
</g>
<g stroke="#000" fill="none"><path d="M3707,1342 V1616 M3909,1342 V1616" stroke-width="4"/><path d="M3542,1382 H4106" stroke-width="5"/>
<path d="M3542,1427 H4028 M3542,1471 H4028 M3542,1572 H4028 M3542,1616 H4028" stroke-width="4" stroke-dasharray="5,4"/>
<path d="M3614,1482 V1553 M3778,1482 V1553 M3954,1482 V1553" stroke-width="3" stroke-dasharray="8,6"/></g>
<text x="3511" y="1718" font-size="36" class="b" fill="#7030a0" textLength="806">Responses: Digitalization of  starting f<tspan font-size="22" dy="7">osc</tspan><tspan dy="-7"> and I</tspan><tspan font-size="22" dy="7">D</tspan></text>

<!-- captions -->
<text x="440" y="1885" font-size="64" text-anchor="middle">(<tspan class="b">a</tspan>)</text>
<text x="1862" y="1885" font-size="64" text-anchor="middle">(<tspan class="b">b</tspan>)</text>
<text x="3604" y="1885" font-size="64" text-anchor="middle">(<tspan class="b">c</tspan>)</text>
</svg>
</body></html>
